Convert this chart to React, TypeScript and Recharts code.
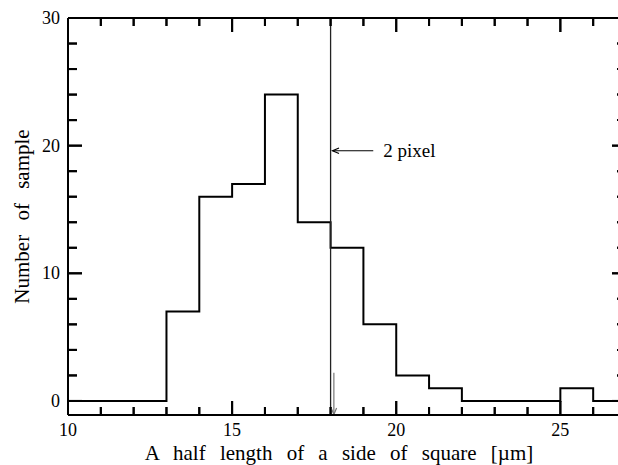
import React from 'react';
import { ComposedChart, Line, XAxis, YAxis, ReferenceLine, ReferenceDot } from 'recharts';

// bin left edges (µm) and sample counts per bin; last edge closes the histogram
const binEdges = [10, 11, 12, 13, 14, 15, 16, 17, 18, 19, 20, 21, 22, 23, 24, 25, 26, 27];
const counts = [0, 0, 0, 7, 16, 17, 24, 14, 12, 6, 2, 1, 0, 0, 0, 1, 0, 0];
const xMajor = [10, 15, 20, 25];
const xMinor = [11, 12, 13, 14, 16, 17, 18, 19, 21, 22, 23, 24, 26];
const yMajor = [0, 10, 20, 30];
const yMinor = [2, 4, 6, 8, 12, 14, 16, 18, 22, 24, 26, 28];
const pixelLimit = 18;
const pixelArrow = [{ x: 19.3, y: 19.6 }, { x: 18.06, y: 19.6 }];
const meanArrow = [{ x: 18.1, y: 2.2 }, { x: 18.1, y: -1.05 }];

const data = binEdges.map((edge, i) => ({ edge, count: counts[i] }));

const FONT = "'Times New Roman', 'Liberation Serif', serif";
const X_DOMAIN: [number, number] = [10, 27];
const Y_DOMAIN: [number, number] = [-1.1, 30];
const frame = { stroke: '#000', strokeWidth: 2 };

// inward tick marks: anchor point on the frame, direction and length in px
type Tick = { x: number; y: number; dx: number; dy: number };
const frameTicks: Tick[] = [];
xMajor.concat(xMinor).forEach((v) => {
  const len = xMajor.includes(v) ? 14 : 8;
  frameTicks.push({ x: v, y: Y_DOMAIN[0], dx: 0, dy: -len });
  frameTicks.push({ x: v, y: Y_DOMAIN[1], dx: 0, dy: len });
});
yMajor.concat(yMinor).forEach((v) => {
  const len = yMajor.includes(v) ? 14 : 9;
  frameTicks.push({ x: X_DOMAIN[0], y: v, dx: len, dy: 0 });
  frameTicks.push({ x: X_DOMAIN[1], y: v, dx: -len, dy: 0 });
});

const tickShape = (t: Tick) => (props: any) => {
  const { cx, cy } = props;
  if (cx == null || cy == null) return <g />;
  return <path d={`M${cx},${cy}l${t.dx},${t.dy}`} stroke="#000" strokeWidth={2} fill="none" />;
};

const BottomLabel = ({ x, y, payload }: any) => (
  <text x={x} y={y + 21} textAnchor="middle" fontSize={18} fontFamily={FONT} fill="#000">
    {payload.value}
  </text>
);

const LeftLabel = ({ x, y, payload }: any) => (
  <text x={x - 8} y={y + 6} textAnchor="end" fontSize={18} fontFamily={FONT} fill="#000">
    {payload.value}
  </text>
);

const arrowShape = (color: string, text?: string) => (props: any) => {
  const { x1, y1, x2, y2 } = props;
  const ang = Math.atan2(y2 - y1, x2 - x1);
  const len = 7;
  const spread = 0.4;
  const ax = x2 - len * Math.cos(ang - spread);
  const ay = y2 - len * Math.sin(ang - spread);
  const bx = x2 - len * Math.cos(ang + spread);
  const by = y2 - len * Math.sin(ang + spread);
  return (
    <g>
      <path d={`M${x1},${y1}L${x2},${y2}`} stroke={color} strokeWidth={1.2} fill="none" />
      <path d={`M${ax},${ay}L${x2},${y2}L${bx},${by}`} stroke={color} strokeWidth={1.2} fill="none" />
      {text && (
        <text x={x1 + 10} y={y1 + 6} fontSize={19} fontFamily={FONT} fill="#000">
          {text}
        </text>
      )}
    </g>
  );
};

// same tick drawn as a segment shape (the arrow shapes render reliably)
const segShape = (props: any) => {
  const { x1, y1, x2, y2 } = props;
  return <path d={`M${x1},${y1}L${x2},${y2}`} stroke="#000" strokeWidth={2} fill="none" />;
};

export default function App() {
  const pxX = 558 / (X_DOMAIN[1] - X_DOMAIN[0]);
  const pxY = 397 / (Y_DOMAIN[1] - Y_DOMAIN[0]);
  return (
    <div
      style={{
        position: 'absolute',
        left: 0,
        top: 0,
        width: 618,
        height: 465,
        overflow: 'hidden',
        background: '#fff',
      }}
    >
      <ComposedChart width={640} height={465} data={data} margin={{ top: 17, right: 13, bottom: 49, left: 67 }}>
        <XAxis
          xAxisId="b"
          type="number"
          dataKey="edge"
          domain={X_DOMAIN}
          ticks={xMajor}
          interval={0}
          height={1}
          tickSize={0}
          tickMargin={0}
          tick={BottomLabel}
          axisLine={frame}
          tickLine={false}
          label={{
            content: (p: any) => (
              <text
                x={p.viewBox.x + p.viewBox.width / 2 - 8}
                y={p.viewBox.y + 45}
                textAnchor="middle"
                fontSize={21}
                fontFamily={FONT}
                wordSpacing={9}
                fill="#000"
              >
                A half length of a side of square [µm]
              </text>
            ),
          }}
        />
        <XAxis
          xAxisId="t"
          orientation="top"
          type="number"
          dataKey="edge"
          domain={X_DOMAIN}
          height={1}
          tick={false}
          axisLine={frame}
          tickLine={false}
        />
        <YAxis
          yAxisId="l"
          type="number"
          domain={Y_DOMAIN}
          ticks={yMajor}
          interval={0}
          width={1}
          tickSize={0}
          tickMargin={0}
          tick={LeftLabel}
          axisLine={frame}
          tickLine={false}
          label={{
            content: (p: any) => {
              const cy = p.viewBox.y + p.viewBox.height / 2;
              return (
                <text
                  x={22}
                  y={cy}
                  transform={`rotate(-90, 22, ${cy})`}
                  textAnchor="middle"
                  dominantBaseline="central"
                  fontSize={21}
                  fontFamily={FONT}
                  wordSpacing={9}
                  fill="#000"
                >
                  Number of sample
                </text>
              );
            },
          }}
        />
        <YAxis
          yAxisId="r"
          orientation="right"
          type="number"
          domain={Y_DOMAIN}
          width={1}
          tick={false}
          axisLine={frame}
          tickLine={false}
        />
        <Line
          xAxisId="b"
          yAxisId="l"
          type="stepAfter"
          dataKey="count"
          stroke="#000"
          strokeWidth={2}
          dot={false}
          isAnimationActive={false}
        />
        {frameTicks.map((t, i) => (
          <ReferenceLine
            key={`seg-${i}`}
            xAxisId="b"
            yAxisId="l"
            segment={[
              { x: t.x, y: t.y },
              { x: t.x + t.dx / pxX, y: t.y - t.dy / pxY },
            ]}
            shape={segShape}
          />
        ))}
        {frameTicks.map((t, i) => (
          <ReferenceDot
            key={`dot-${i}`}
            xAxisId="b"
            yAxisId="l"
            x={t.x}
            y={t.y}
            r={1}
            ifOverflow="visible"
            shape={tickShape(t)}
          />
        ))}
        <ReferenceLine xAxisId="b" yAxisId="l" x={pixelLimit} stroke="#222" strokeWidth={1.3} />
        <ReferenceLine xAxisId="b" yAxisId="l" segment={pixelArrow} shape={arrowShape('#000', '2 pixel')} />
        <ReferenceLine xAxisId="b" yAxisId="l" segment={meanArrow} shape={arrowShape('#777')} />
      </ComposedChart>
    </div>
  );
}
